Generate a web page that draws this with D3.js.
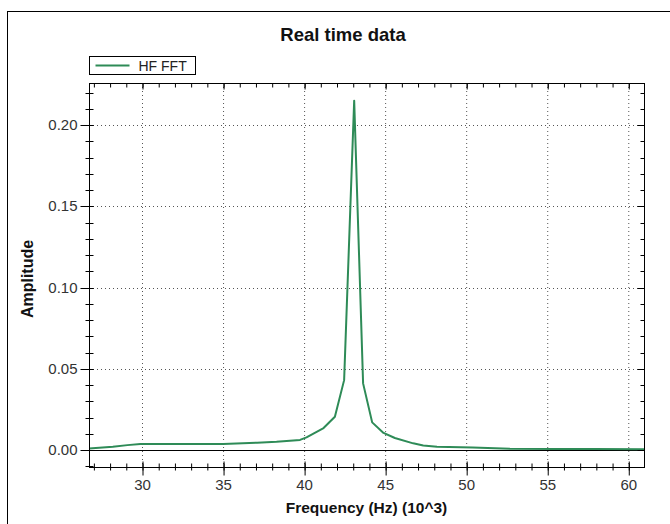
<!DOCTYPE html>
<html>
<head>
<meta charset="utf-8">
<script src="https://cdn.jsdelivr.net/npm/d3@7"></script>
<style>
  body { margin: 0; background: #fff; }
  svg { display: block; font-family: "Liberation Sans", Arial, sans-serif; }
  .tick text { fill: #333; font-size: 15px; }
  .domain { display: none; }
</style>
</head>
<body>
<div id="chart"></div>
<script>
// values (frequency in kHz, amplitude)
const freq = [26.73, 28.2, 29.1, 29.9, 35.0, 37.1, 38.3, 39.75, 40.15, 41.2, 41.9, 42.47,
              43.09, 43.64, 44.2, 44.9, 45.6, 46.73, 47.35, 48.2, 50.4, 52.7, 55.6, 57.8, 61.0];
const amp  = [0.001, 0.002, 0.003, 0.0037, 0.0037, 0.0045, 0.0051, 0.0062, 0.0078, 0.0135, 0.0205, 0.043,
              0.215, 0.041, 0.017, 0.0105, 0.0074, 0.0041, 0.0028, 0.002, 0.0015, 0.0008, 0.0006, 0.0006, 0.0004];
const xTicks = [30, 35, 40, 45, 50, 55, 60];
const yTicks = [0, 0.05, 0.10, 0.15, 0.20];
const seriesName = "HF FFT";
const title = "Real time data";
const xLabel = "Frequency (Hz) (10^3)";
const yLabel = "Amplitude";

const data = freq.map((f, i) => ({ f: f, a: amp[i] }));

let width = 670, height = 524,
    margin = { top: 83, left: 89, right: 26, bottom: 57 },
    innerW = width - margin.left - margin.right,
    innerH = height - margin.top - margin.bottom,
    lineColor = "#2e8b57";

let svg = d3.select("#chart").append("svg").attr("width", width).attr("height", height);

// outer frame
svg.append("rect").attr("x", 7.5).attr("y", 11.5).attr("width", 700).attr("height", 600)
   .attr("fill", "none").attr("stroke", "#000");

let xScale = d3.scaleLinear().domain([26.73, 60.97]).range([0, innerW]);
let yScale = d3.scaleLinear().domain([-0.01046, 0.22585]).range([innerH, 0]);

let g = svg.append("g").attr("transform", `translate(${margin.left},${margin.top})`);

// dotted grid
g.append("g").selectAll("line").data(xTicks).enter().append("line")
  .attr("x1", d => xScale(d) + 0.5).attr("x2", d => xScale(d) + 0.5)
  .attr("y1", 0).attr("y2", innerH)
  .attr("stroke", "#555").attr("stroke-dasharray", "1,3");
g.append("g").selectAll("line").data(yTicks.filter(d => d != 0)).enter().append("line")
  .attr("y1", d => Math.round(yScale(d)) + 0.5).attr("y2", d => Math.round(yScale(d)) + 0.5)
  .attr("x1", 0).attr("x2", innerW)
  .attr("stroke", "#555").attr("stroke-dasharray", "1,3");

// zero line
g.append("line").attr("x1", 0).attr("x2", innerW)
  .attr("y1", Math.round(yScale(0)) + 0.5).attr("y2", Math.round(yScale(0)) + 0.5)
  .attr("stroke", "#000");

// data line
let lineGen = d3.line().x(d => xScale(d.f)).y(d => yScale(d.a));
g.append("path").attr("d", lineGen(data)).attr("fill", "none")
  .attr("stroke", lineColor).attr("stroke-width", 2).attr("stroke-linejoin", "round");

// plot frame
g.append("rect").attr("x", 0.5).attr("y", 0.5).attr("width", innerW).attr("height", innerH)
  .attr("fill", "none").attr("stroke", "#000");

let xMinor = d3.range(27, 61);
let yMinor = d3.range(-1, 23).map(d => d / 100);

// bottom axis
let xMinorG = g.append("g").attr("transform", `translate(0.5,${innerH + 0.5})`)
  .call(d3.axisBottom(xScale).tickValues(xMinor).tickFormat("").tickSize(3));
xMinorG.selectAll(".tick line").attr("y1", -4).attr("y2", 3).attr("stroke", "#000");
let xMajorG = g.append("g").attr("transform", `translate(0.5,${innerH + 0.5})`)
  .call(d3.axisBottom(xScale).tickValues(xTicks).tickSize(8).tickPadding(4));
xMajorG.selectAll(".tick line").attr("y1", -6).attr("y2", 8).attr("stroke", "#000");
xMajorG.selectAll(".tick text").attr("x", -0.5);

// top axis
let tMinorG = g.append("g").attr("transform", `translate(0.5,0.5)`)
  .call(d3.axisBottom(xScale).tickValues(xMinor).tickFormat("").tickSize(4));
tMinorG.selectAll(".tick line").attr("stroke", "#000");
let tMajorG = g.append("g").attr("transform", `translate(0.5,0.5)`)
  .call(d3.axisBottom(xScale).tickValues(xTicks).tickFormat("").tickSize(6));
tMajorG.selectAll(".tick line").attr("stroke", "#000");

// left axis
let yMinorG = g.append("g").attr("transform", `translate(0.5,0.5)`)
  .call(d3.axisLeft(yScale).tickValues(yMinor).tickFormat("").tickSize(4));
yMinorG.selectAll(".tick").attr("transform", d => `translate(0,${Math.round(yScale(d))})`);
yMinorG.selectAll(".tick line").attr("x1", 4).attr("x2", -4).attr("stroke", "#000");
let yMajorG = g.append("g").attr("transform", `translate(0.5,0.5)`)
  .call(d3.axisLeft(yScale).tickValues(yTicks).tickFormat(d3.format(".2f")).tickSize(9).tickPadding(3));
yMajorG.selectAll(".tick").attr("transform", d => `translate(0,${Math.round(yScale(d))})`);
yMajorG.selectAll(".tick line").attr("x1", 4).attr("x2", -9).attr("stroke", "#000");

// right axis
let rMinorG = g.append("g").attr("transform", `translate(${innerW + 0.5},0.5)`)
  .call(d3.axisLeft(yScale).tickValues(yMinor.filter(d => d >= 0)).tickFormat("").tickSize(4));
rMinorG.selectAll(".tick").attr("transform", d => `translate(0,${Math.round(yScale(d))})`);
rMinorG.selectAll(".tick line").attr("x2", -4).attr("stroke", "#000");
let rMajorG = g.append("g").attr("transform", `translate(${innerW + 0.5},0.5)`)
  .call(d3.axisLeft(yScale).tickValues(yTicks).tickFormat("").tickSize(7));
rMajorG.selectAll(".tick").attr("transform", d => `translate(0,${Math.round(yScale(d))})`);
rMajorG.selectAll(".tick line").attr("stroke", "#000");

// title and axis labels
svg.append("text").attr("x", 343).attr("y", 41).attr("text-anchor", "middle")
  .attr("font-size", 18.5).attr("font-weight", "bold").attr("fill", "#111").text(title);
svg.append("text").attr("x", margin.left + innerW / 2).attr("y", 513).attr("text-anchor", "middle")
  .attr("font-size", 15.5).attr("font-weight", "bold").attr("fill", "#111").text(xLabel);
svg.append("text").attr("transform", `translate(33,${margin.top + innerH / 2 + 4}) rotate(-90)`)
  .attr("text-anchor", "middle").attr("font-size", 16).attr("font-weight", "bold")
  .attr("fill", "#111").text(yLabel);

// legend
let legend = svg.append("g").attr("transform", "translate(89.5,56.5)");
legend.append("rect").attr("width", 106).attr("height", 18).attr("fill", "#fff").attr("stroke", "#000");
legend.append("line").attr("x1", 6).attr("x2", 40).attr("y1", 9).attr("y2", 9)
  .attr("stroke", lineColor).attr("stroke-width", 2);
legend.append("text").attr("x", 49).attr("y", 14).attr("font-size", 14).attr("fill", "#222").text(seriesName);
</script>
</body>
</html>
